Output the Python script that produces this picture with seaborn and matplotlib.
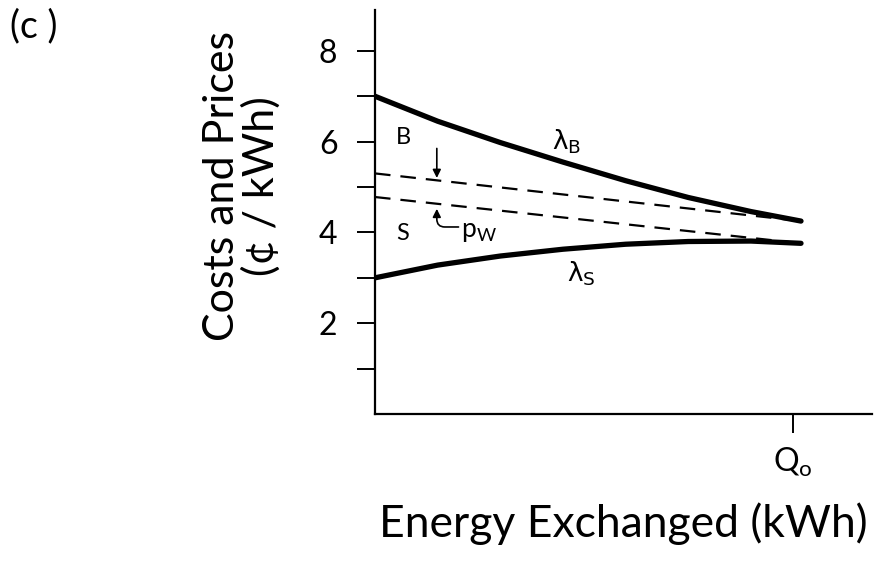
import matplotlib
matplotlib.use("Agg")
import matplotlib.pyplot as plt
import seaborn as sns

# Energy exchanged, as a fraction of Q0
energy = [0.0, 0.15, 0.30, 0.45, 0.60, 0.75, 0.90, 1.02]
# Buyer's marginal cost curve (cents/kWh)
lambda_b = [7.00, 6.45, 5.98, 5.55, 5.14, 4.77, 4.46, 4.25]
# Seller's marginal cost curve (cents/kWh)
lambda_s = [3.00, 3.28, 3.48, 3.63, 3.74, 3.80, 3.81, 3.76]

# Wheeling price bounds (straight dashed lines)
pw_energy = [0.0, 1.02]
pw_upper = [5.30, 4.25]
pw_lower = [4.78, 3.76]

y_major = [2, 4, 6, 8]
y_minor = [1, 3, 5, 7]
x_ticks = [1.0]
x_ticklabels = [r"Q$_\mathregular{o}$"]

sns.set_theme(style="white")
plt.rcParams["font.family"] = ["Lato", "DejaVu Sans"]
plt.rcParams["text.color"] = "black"
plt.rcParams["mathtext.default"] = "regular"

TXT = dict(family=["Lato", "DejaVu Sans"], weight="normal", color="black")
GREEK = dict(family=["DejaVu Sans"], color="black")

fig = plt.figure(figsize=(8.76, 5.67), dpi=100)
ax = fig.add_axes([375 / 876, 1 - 414 / 567, (872 - 375) / 876, (414 - 10) / 567])

sns.lineplot(x=energy, y=lambda_b, ax=ax, color="black", lw=3.8, solid_capstyle="round")
sns.lineplot(x=energy, y=lambda_s, ax=ax, color="black", lw=3.8, solid_capstyle="round")
sns.lineplot(x=pw_energy, y=pw_upper, ax=ax, color="black", lw=1.6, linestyle=(0, (7, 4.5)))
sns.lineplot(x=pw_energy, y=pw_lower, ax=ax, color="black", lw=1.6, linestyle=(0, (7, 4.5)))

ax.set_xlim(0, 1.19)
ax.set_ylim(0, 8.9)

for side in ("top", "right"):
    ax.spines[side].set_visible(False)
for side in ("left", "bottom"):
    ax.spines[side].set_color("black")
    ax.spines[side].set_linewidth(1.6)

ax.set_yticks(y_major)
ax.set_yticks(y_minor, minor=True)
ax.set_xticks(x_ticks)
ax.set_xticklabels(x_ticklabels)
ax.tick_params(axis="y", which="both", direction="out", length=13, width=1.4,
               color="black", left=True, labelsize=23, pad=14, labelcolor="black")
ax.tick_params(axis="x", which="major", direction="out", length=14, width=1.4,
               color="black", bottom=True, labelsize=23, pad=9, labelcolor="black")
ax.grid(False)

ax.set_ylabel("Costs and Prices\n(¢ / kWh)", fontsize=31, linespacing=1.0, **TXT)
ax.yaxis.set_label_coords(-0.19, 0.565)
ax.set_xlabel("Energy Exchanged (kWh)", fontsize=32, labelpad=17, **TXT)

# Region and curve annotations
ax.text(0.067, 6.09, "B", fontsize=17, ha="center", va="center", **TXT)
ax.text(0.067, 3.97, "S", fontsize=17, ha="center", va="center", **TXT)
ax.text(0.46, 6.0, r"λ$_\mathregular{B}$", fontsize=19, ha="center", va="center", **GREEK)
ax.text(0.495, 3.1, r"λ$_\mathregular{S}$", fontsize=19, ha="center", va="center", **GREEK)
ax.text(0.25, 4.02, r"p$_\mathregular{W}$", fontsize=19, ha="center", va="center", **TXT)

ax.annotate("", xy=(0.148, 5.2), xytext=(0.148, 5.85),
            arrowprops=dict(arrowstyle="-|>", color="black", lw=1.2,
                            mutation_scale=12, shrinkA=0, shrinkB=0))
ax.annotate("", xy=(0.148, 4.52), xytext=(0.2, 4.12),
            arrowprops=dict(arrowstyle="-|>", color="black", lw=1.2,
                            mutation_scale=12, shrinkA=0, shrinkB=0,
                            connectionstyle="angle,angleA=0,angleB=90,rad=8"))

fig.text(10 / 876, 1 - 8 / 567, "(c )", fontsize=27, ha="left", va="top", **TXT)

fig.savefig("out.png", dpi=100, facecolor="white")
